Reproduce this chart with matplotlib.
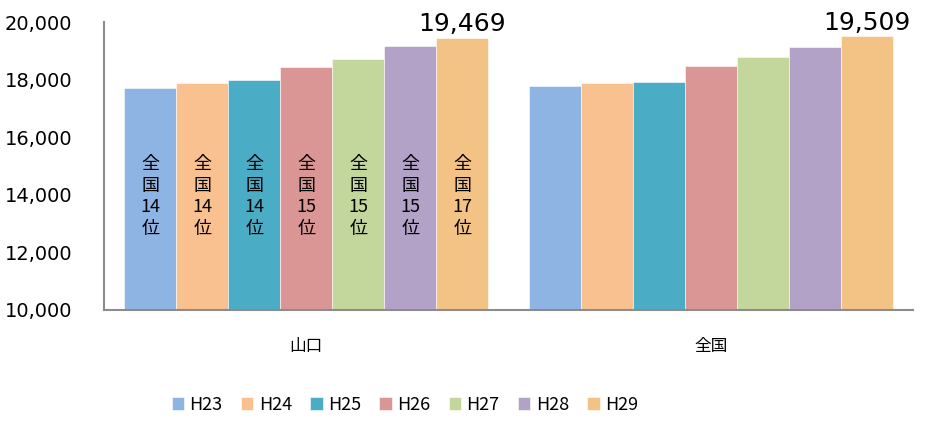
import matplotlib.pyplot as plt
import numpy as np
from matplotlib.ticker import FuncFormatter

plt.rcParams['font.family'] = ['Noto Sans CJK JP', 'DejaVu Sans']

# ============================================================
# Data
# ============================================================

regions = ["山口", "全国"]
years = ["H23", "H24", "H25", "H26", "H27", "H28", "H29"]
yamaguchi = [17710, 17890, 17985, 18430, 18715, 19165, 19469]
national = [17800, 17890, 17915, 18485, 18785, 19155, 19509]
ranks = ["14", "14", "14", "15", "15", "15", "17"]
colors = ["#8EB4E3", "#F9C090", "#4BACC6", "#D99694",
          "#C3D69B", "#B3A2C7", "#F3C385"]

# ============================================================
# Plot
# ============================================================

fig = plt.figure(figsize=(9.33, 4.25), dpi=100)
ax = fig.add_axes([0.1115, 0.2706, 0.867, 0.677])

n = len(years)
group_w = 0.9
bw = group_w / n
x = np.arange(len(regions))

for i, yr in enumerate(years):
    vals = [yamaguchi[i], national[i]]
    xpos = x - group_w / 2 + bw * (i + 0.5)
    ax.bar(xpos, [v - 10000 for v in vals], bottom=10000, width=bw,
           color=colors[i], edgecolor="white", linewidth=0.4, label=yr)
    # rank text inside Yamaguchi bars
    ax.text(xpos[0], 13950, "全\n国\n" + ranks[i] + "\n位",
            ha="center", va="center", fontsize=13, linespacing=1.25,
            family=["Noto Sans CJK JP", "DejaVu Sans"])

# value labels on the last bars
last_x = x - group_w / 2 + bw * (n - 0.5)
for xi, v in zip(last_x, [yamaguchi[-1], national[-1]]):
    ax.text(xi, v + 60, f"{v:,}", ha="center", va="bottom",
            fontsize=18, family="DejaVu Sans")

ax.set_xlim(-0.5, 1.5)
ax.set_ylim(10000, 20000)
ax.set_yticks(range(10000, 20001, 2000))
ax.yaxis.set_major_formatter(FuncFormatter(lambda v, p: f"{int(v):,}"))
for lbl in ax.get_yticklabels():
    lbl.set_family("DejaVu Sans")
    lbl.set_fontsize(14)
ax.tick_params(axis="y", length=0, pad=23)

ax.set_xticks(x)
ax.set_xticklabels(regions, fontsize=12)
ax.tick_params(axis="x", length=0, pad=20)

for s in ["top", "right"]:
    ax.spines[s].set_visible(False)
for s in ["left", "bottom"]:
    ax.spines[s].set_color("#8C8C8C")
    ax.spines[s].set_linewidth(1.5)

fig.legend(loc="center", bbox_to_anchor=(0.434, 0.047), ncol=n,
           frameon=False, fontsize=13, handlelength=0.7, handleheight=0.7,
           handletextpad=0.3, columnspacing=1.0)

fig.savefig("out.png", dpi=100)
